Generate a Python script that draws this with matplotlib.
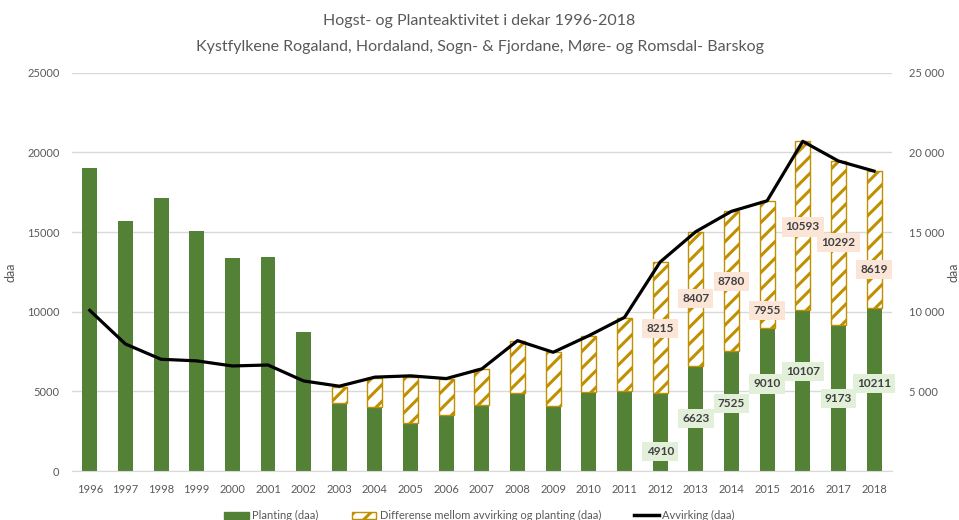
import numpy as np
import matplotlib
matplotlib.use("Agg")
from matplotlib import pyplot as plt
from matplotlib.patches import Patch
from matplotlib.lines import Line2D

plt.rcParams['font.family'] = ['Lato', 'DejaVu Sans']
plt.rcParams['hatch.linewidth'] = 2.2

years = [str(y) for y in range(1996, 2019)]
planting = [19030, 15700, 17150, 15040, 13350, 13410, 8720, 4250, 4020, 3000,
            3520, 4170, 4880, 4080, 4980, 5060, 4910, 6623, 7525, 9010,
            10107, 9173, 10211]
differanse = [0, 0, 0, 0, 0, 0, 0, 1050, 1800, 2880,
              2280, 2220, 3300, 3380, 3530, 4540, 8215, 8407, 8780, 7955,
              10593, 10292, 8619]
avvirking = [10090, 7980, 7020, 6920, 6600, 6660, 5660, 5330, 5900, 5980,
             5810, 6420, 8190, 7460, 8500, 9650, 13125, 15030, 16305, 16965,
             20700, 19465, 18830]

# label heights for the 2012-2018 values (as placed in the original)
plant_lbl_y = [1250, 3320, 4260, 5470, 6250, 4570, 5510]
diff_lbl_y = [8960, 10820, 11890, 10070, 15330, 14330, 12660]

green = "#538135"
gold = "#BF9000"
grey = "#595959"

fig = plt.figure(figsize=(9.59, 5.2), dpi=100)
ax = fig.add_axes([0.075, 0.094, 0.855, 0.766])
x = np.arange(len(years))
w = 0.42

ax.bar(x, planting, w, color=green, zorder=2)
# only years where avvirking is above planting get a hatched part
pos = [i for i in range(len(years)) if differanse[i] > 0]
ax.bar(x[pos], [differanse[i] for i in pos], w,
       bottom=[planting[i] for i in pos], color="white", edgecolor=gold,
       hatch="//", linewidth=1, zorder=2)
ax.plot(x, avvirking, color="black", lw=2.3, zorder=3)

ax.set_xlim(-0.5, 22.5)
ax.set_ylim(0, 25000)
ax.set_yticks(range(0, 25001, 5000))
ax.set_xticks(x)
ax.set_xticklabels(years)
ax.grid(axis="y", color="#D9D9D9", lw=1, zorder=0)
for s in ["top", "right", "left"]:
    ax.spines[s].set_visible(False)
ax.spines["bottom"].set_color("#D9D9D9")
ax.tick_params(length=0, labelsize=8, colors=grey, pad=9)
ax.set_ylabel("daa", color=grey, fontsize=9)
ax.yaxis.set_label_coords(-0.068, 0.5)

ax2 = ax.twinx()
ax2.set_ylim(0, 25000)
ax2.set_yticks(range(5000, 25001, 5000))
ax2.set_yticklabels([f"{v:,}".replace(",", " ") for v in range(5000, 25001, 5000)])
for s in ax2.spines.values():
    s.set_visible(False)
ax2.tick_params(length=0, labelsize=8, colors=grey, pad=12)
ax2.set_ylabel("daa", color=grey, fontsize=9, rotation=90)
ax2.yaxis.set_label_coords(1.068, 0.5)

start = years.index("2012")
for i in range(start, len(years)):
    k = i - start
    ax.text(x[i], plant_lbl_y[k], str(planting[i]), ha="center", va="center",
            fontsize=8.5, fontweight="bold", color="#404040", zorder=5,
            bbox=dict(boxstyle="square,pad=0.35", fc="#E2F0D9", ec="none"))
    ax.text(x[i], diff_lbl_y[k], str(differanse[i]), ha="center", va="center",
            fontsize=8.5, fontweight="bold", color="#404040", zorder=5,
            bbox=dict(boxstyle="square,pad=0.35", fc="#FBE5D6", ec="none"))

fig.text(0.5, 0.960, "Hogst- og Planteaktivitet i dekar 1996-2018",
         ha="center", va="center", fontsize=11.5, color=grey)
fig.text(0.5, 0.910,
         "Kystfylkene Rogaland, Hordaland, Sogn- & Fjordane, Møre- og Romsdal- Barskog",
         ha="center", va="center", fontsize=11.5, color=grey)

handles = [Patch(fc=green, ec=green),
           Patch(fc="white", ec=gold, hatch="//"),
           Line2D([], [], color="black", lw=2.5)]
labels = ["Planting (daa)", "Differense mellom avvirking og planting (daa)",
          "Avvirking (daa)"]
fig.legend(handles, labels, loc="center", bbox_to_anchor=(0.5, 0.008),
           ncol=3, frameon=False, fontsize=8, labelcolor=grey,
           handlelength=2.2, handletextpad=0.3, columnspacing=3)

fig.savefig("out.png", dpi=100)
